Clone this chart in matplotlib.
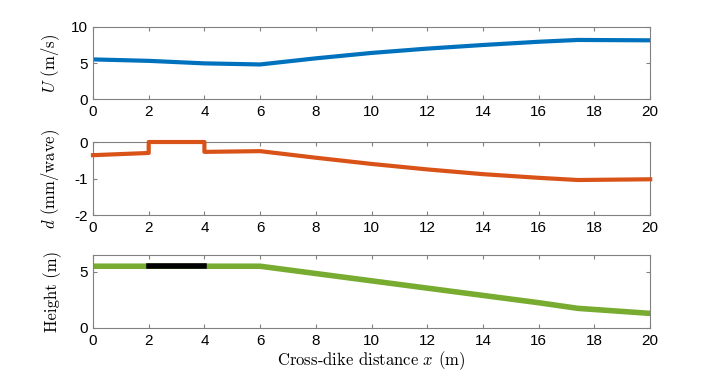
import matplotlib
matplotlib.use('Agg')
import matplotlib.pyplot as plt

# cross-dike profiles
x_u = [0, 2, 4, 6, 8, 10, 12, 14, 16, 17.4, 20]
u = [5.5, 5.3, 4.95, 4.8, 5.65, 6.4, 7.0, 7.5, 7.95, 8.2, 8.15]

x_d = [0, 2, 2, 4, 4, 6, 8, 10, 12, 14, 16, 17.4, 20]
d = [-0.36, -0.3, 0.0, 0.0, -0.27, -0.25, -0.43, -0.6, -0.75, -0.88, -0.98, -1.04, -1.02]

x_h = [0, 6, 8, 10, 12, 14, 16, 17.4, 20]
h = [5.5, 5.5, 4.85, 4.2, 3.55, 2.9, 2.25, 1.75, 1.3]
x_crest = [2, 4]
h_crest = [5.5, 5.5]

xticks = list(range(0, 21, 2))

plt.rcParams['font.family'] = ['Liberation Sans', 'DejaVu Sans']
plt.rcParams['mathtext.fontset'] = 'cm'

gray = '#808080'
lab = dict(family='cmr10', fontsize=12)

fig = plt.figure(figsize=(7.18, 3.78), dpi=100)
ax1 = fig.add_axes([0.1295, 0.738, 0.776, 0.1906])
ax2 = fig.add_axes([0.1295, 0.431, 0.776, 0.1933])
ax3 = fig.add_axes([0.1295, 0.1323, 0.776, 0.1931])

ax1.plot(x_u, u, color='#0072BD', lw=3)
ax1.set_ylim(0, 10)
ax1.set_yticks([0, 5, 10])
ax1.set_ylabel(r'$U$ (m/s)', **lab)

ax2.plot(x_d, d, color='#D95319', lw=3, clip_on=False, zorder=5)
ax2.set_ylim(-2, 0)
ax2.set_yticks([-2, -1, 0])
ax2.set_yticklabels(['-2', '-1', '0'])
ax2.set_ylabel(r'$d$ (mm/wave)', **lab)

ax3.plot(x_h, h, color='#77AC30', lw=4)
ax3.plot(x_crest, h_crest, color='black', lw=4)
ax3.set_ylim(0, 6.5)
ax3.set_yticks([0, 5])
ax3.set_ylabel('Height (m)', **lab)
ax3.set_xlabel(r'Cross-dike distance $x$ (m)', labelpad=1, **lab)

for ax in (ax1, ax2, ax3):
    ax.set_xlim(0, 20)
    ax.set_xticks(xticks)
    ax.tick_params(direction='in', length=3, width=0.8, color=gray,
                   labelsize=11, top=True, right=True, pad=4)
    for s in ax.spines.values():
        s.set_color(gray)
        s.set_linewidth(0.8)
    ax.yaxis.set_label_coords(-0.055, 0.5)

fig.savefig('out.png', dpi=100)
